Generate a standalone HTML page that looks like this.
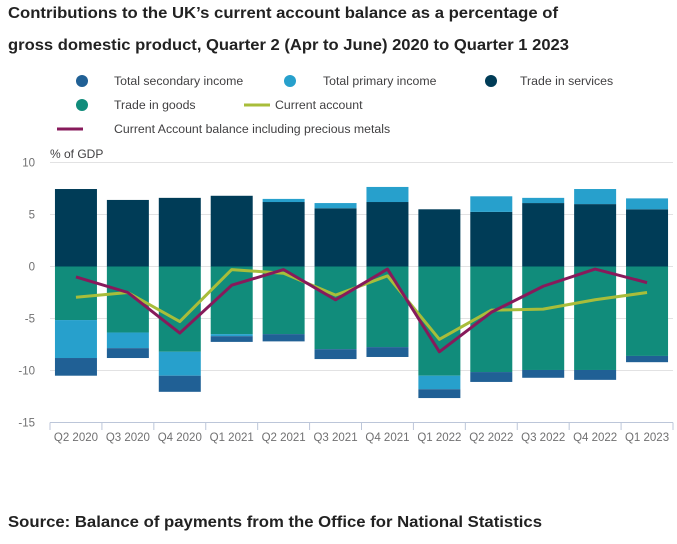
<!DOCTYPE html>
<html><head><meta charset="utf-8"><style>
body{margin:0;background:#fff;font-family:"Liberation Sans",sans-serif;}
svg text{font-family:"Liberation Sans",sans-serif;}
</style></head><body>
<svg id="c" width="677" height="539">
<text x="8" y="18" font-size="16" font-weight="bold" fill="#222" textLength="550" lengthAdjust="spacingAndGlyphs">Contributions to the UK’s current account balance as a percentage of</text>
<text x="8" y="50" font-size="16" font-weight="bold" fill="#222" textLength="561" lengthAdjust="spacingAndGlyphs">gross domestic product, Quarter 2 (Apr to June) 2020 to Quarter 1 2023</text>
<g font-size="12.3" fill="#414042">
<circle cx="82" cy="81" r="6" fill="#206095"/><text x="114" y="85">Total secondary income</text>
<circle cx="290" cy="81" r="6" fill="#27a0cc"/><text x="323" y="85">Total primary income</text>
<circle cx="491" cy="81" r="6" fill="#003c57"/><text x="520" y="85">Trade in services</text>
<circle cx="82" cy="105" r="6" fill="#118c7b"/><text x="114" y="109">Trade in goods</text>
<line x1="244" y1="105" x2="270" y2="105" stroke="#a8bd3a" stroke-width="3"/><text x="275" y="109">Current account</text>
<line x1="57" y1="129" x2="83" y2="129" stroke="#871a5b" stroke-width="3"/><text x="114" y="133">Current Account balance including precious metals</text>
</g>
<text x="50" y="158" font-size="12" fill="#414042">% of GDP</text>
<g id="grid"></g><g id="bars"></g><g id="lines"></g><g id="axes"></g>
<text x="8" y="527" font-size="16" font-weight="bold" fill="#222" textLength="534" lengthAdjust="spacingAndGlyphs">Source: Balance of payments from the Office for National Statistics</text>
</svg>
<script>
const categories=["Q2 2020","Q3 2020","Q4 2020","Q1 2021","Q2 2021","Q3 2021","Q4 2021","Q1 2022","Q2 2022","Q3 2022","Q4 2022","Q1 2023"];
const services=[7.45,6.4,6.6,6.8,6.2,5.6,6.2,5.5,5.25,6.1,6.0,5.5];
const goods=[-5.15,-6.35,-8.2,-6.5,-6.5,-7.95,-7.75,-10.5,-10.15,-9.95,-9.95,-8.6];
const primary=[-3.65,-1.5,-2.3,-0.2,0.3,0.5,1.45,-1.3,1.5,0.5,1.45,1.05];
const secondary=[-1.7,-0.95,-1.55,-0.55,-0.7,-0.95,-0.95,-0.85,-0.95,-0.75,-0.95,-0.6];
const currentAccount=[-2.96,-2.5,-5.3,-0.3,-0.65,-2.75,-0.9,-7.0,-4.2,-4.1,-3.2,-2.5];
const caMetals=[-1.0,-2.5,-6.4,-1.8,-0.3,-3.2,-0.25,-8.2,-4.4,-1.9,-0.25,-1.55];
const yTicks=[10,5,0,-5,-10,-15];
const NS="http://www.w3.org/2000/svg";
const X0=50,X1=673,Y0=266.5,PU=10.4;
const bw=(X1-X0)/categories.length;
const y=v=>Y0-v*PU;
const xc=i=>X0+bw*(i+0.5);
function mk(p,t,a){const e=document.createElementNS(NS,t);for(const k in a)e.setAttribute(k,a[k]);document.getElementById(p).appendChild(e);return e;}
yTicks.forEach(t=>{
 if(t>-15){const l=mk('grid','line',{x1:X0,x2:X1,y1:y(t),y2:y(t),stroke:'#e2e2e3','stroke-width':1});
 
 }
 const tx=mk('axes','text',{x:35,y:y(t)+4,'text-anchor':'end','font-size':11.5,fill:'#707071'});tx.textContent=t;
 
 
});
const series=[[services,'#003c57','services'],[goods,'#118c7b','goods'],[primary,'#27a0cc','primary'],[secondary,'#206095','secondary']];
categories.forEach((c,i)=>{
 let pos=0,neg=0;
 series.forEach(([arr,col,nm])=>{
  const v=arr[i];let a,b;
  if(v>=0){a=pos;b=pos+v;pos=b;}else{a=neg;b=neg+v;neg=b;}
  const r=mk('bars','rect',{x:xc(i)-21,width:42,y:Math.min(y(a),y(b)),height:Math.abs(y(a)-y(b)),fill:col});
  
  
 });
 const tx=mk('axes','text',{x:xc(i),y:441,'text-anchor':'middle','font-size':11.5,fill:'#707071'});tx.textContent=c;
 
 
});
for(let i=0;i<=categories.length;i++){const t=mk('axes','line',{x1:X0+bw*i,x2:X0+bw*i,y1:422.5,y2:430,stroke:'#bcc6d9'});
 
 }
const ax=mk('axes','line',{x1:X0,x2:X1,y1:422.5,y2:422.5,stroke:'#bcc6d9'});


[[currentAccount,'#a8bd3a','line-current-account'],[caMetals,'#871a5b','line-ca-precious-metals']].forEach(([arr,col,nm])=>{
 const p=mk('lines','polyline',{points:arr.map((v,i)=>xc(i)+','+y(v)).join(' '),fill:'none',stroke:col,'stroke-width':3,'stroke-linejoin':'round'});
 
 
});
</script>
</body></html>
